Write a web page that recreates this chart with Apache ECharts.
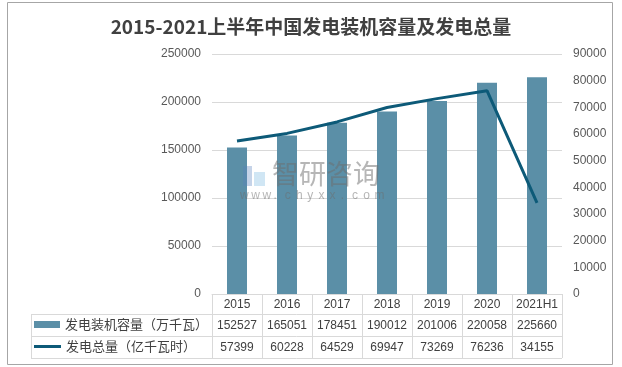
<!DOCTYPE html>
<html><head><meta charset="utf-8">
<script src="https://cdn.jsdelivr.net/npm/echarts@6/dist/echarts.min.js"></script>
<style>html,body{margin:0;padding:0;background:#fff}#c{width:622px;height:367px}</style>
</head><body><div id="c"></div>
<script>
const categories = ['2015','2016','2017','2018','2019','2020','2021H1'];
const capacity = [152527,165051,178451,190012,201006,220058,225660];
const generation = [57399,60228,64529,69947,73269,76236,34155];
const capName = '发电装机容量（万千瓦）';
const genName = '发电总量（亿千瓦时）';
const titleText = '2015-2021上半年中国发电装机容量及发电总量';

const NUM_FONT = "'Liberation Sans', 'Noto Sans CJK SC', sans-serif";
const CJK_FONT = "'Noto Sans CJK SC', sans-serif";
const LINE = '#d9d9d9';
const GL = 212, GR = 60, GT = 54, GB = 73; // grid
const W = 622, H = 367;
const tableLeft = 31, tableRight = W - GR;

const wmChars = 'www.chyxx.com'.split('');
const wmGraphics = wmChars.map(function (ch, i) {
  return {type: 'text', left: 240 + i * 11.2, top: 190, z: 10, silent: true,
    style: {text: ch, fontSize: 12, fill: 'rgba(110,110,110,0.5)', fontFamily: NUM_FONT}};
});

const chart = echarts.init(document.getElementById('c'));
chart.setOption({
  animation: false,
  backgroundColor: '#fff',
  title: {
    text: titleText, left: 'center', top: 12,
    textStyle: {fontSize: 19, fontWeight: 'bold', color: '#404040', fontFamily: CJK_FONT}
  },
  legend: [
    {data: [capName], left: 34, top: 318, padding: 0, itemWidth: 26, itemHeight: 7, icon: 'rect',
     itemStyle: {color: '#5b8fa7'},
     textStyle: {fontSize: 13, color: '#404040', fontFamily: CJK_FONT}},
    {data: [genName], left: 34, top: 340, padding: 0, itemWidth: 27, itemHeight: 3, icon: 'rect',
     itemStyle: {color: '#0d5a78'},
     textStyle: {fontSize: 13, color: '#404040', fontFamily: CJK_FONT}}
  ],
  grid: {left: GL, right: GR, top: GT, bottom: GB, containLabel: false},
  xAxis: {
    type: 'category', data: categories, boundaryGap: true,
    axisLine: {show: true, lineStyle: {color: LINE}},
    axisTick: {show: true, length: 64, interval: 0, alignWithLabel: false, lineStyle: {color: LINE}},
    axisLabel: {
      interval: 0, margin: 0, color: '#404040',
      formatter: function (v, i) {
        return '{y|' + v + '}\n{a|' + capacity[i] + '}\n{b|' + generation[i] + '}';
      },
      rich: {
        y: {fontSize: 12, lineHeight: 21, fontFamily: NUM_FONT, color: '#404040'},
        a: {fontSize: 12, lineHeight: 22, fontFamily: NUM_FONT, color: '#404040'},
        b: {fontSize: 12, lineHeight: 22, fontFamily: NUM_FONT, color: '#404040'}
      }
    }
  },
  yAxis: [
    {type: 'value', min: 0, max: 250000, interval: 50000,
     axisLine: {show: false}, axisTick: {show: false},
     axisLabel: {margin: 11, color: '#595959', fontSize: 12, fontFamily: NUM_FONT, formatter: function (v) { return String(v); }},
     splitLine: {lineStyle: {color: LINE}}},
    {type: 'value', min: 0, max: 90000, interval: 10000,
     axisLine: {show: false}, axisTick: {show: false},
     axisLabel: {margin: 11, color: '#595959', fontSize: 12, fontFamily: NUM_FONT, formatter: function (v) { return String(v); }},
     splitLine: {show: false}}
  ],
  series: [
    {name: capName, type: 'bar', data: capacity, barWidth: '40%', yAxisIndex: 0,
     itemStyle: {color: '#5b8fa7'}, z: 2},
    {name: genName, type: 'line', data: generation, yAxisIndex: 1, smooth: false,
     symbol: 'none', lineStyle: {color: '#0d5a78', width: 3}, itemStyle: {color: '#0d5a78'}, z: 3}
  ],
  graphic: [
    {type: 'rect', shape: {x: 7.5, y: 2.5, width: 605, height: 362}, style: {fill: 'none', stroke: '#a6a6a6', lineWidth: 1}, z: -1, silent: true},
    {type: 'line', shape: {x1: tableLeft, y1: 314.5, x2: tableRight, y2: 314.5}, style: {stroke: LINE, lineWidth: 1}},
    {type: 'line', shape: {x1: tableLeft, y1: 336.5, x2: tableRight, y2: 336.5}, style: {stroke: LINE, lineWidth: 1}},
    {type: 'line', shape: {x1: tableLeft, y1: 358.5, x2: tableRight, y2: 358.5}, style: {stroke: LINE, lineWidth: 1}},
    {type: 'line', shape: {x1: tableLeft + 0.5, y1: 314.5, x2: tableLeft + 0.5, y2: 358.5}, style: {stroke: LINE, lineWidth: 1}},
    {type: 'text', left: 272, top: 160, z: 10, silent: true,
     style: {text: '智研咨询', fontSize: 27, fill: 'rgba(110,110,110,0.5)', fontFamily: CJK_FONT}},
    {type: 'rect', shape: {x: 243, y: 166, width: 9, height: 20}, z: 10, silent: true,
     style: {fill: 'rgba(90,130,190,0.35)'}},
    {type: 'rect', shape: {x: 254, y: 172, width: 11, height: 14}, z: 10, silent: true,
     style: {fill: 'rgba(150,200,230,0.45)'}}
  ].concat(wmGraphics)
});
</script></body></html>
